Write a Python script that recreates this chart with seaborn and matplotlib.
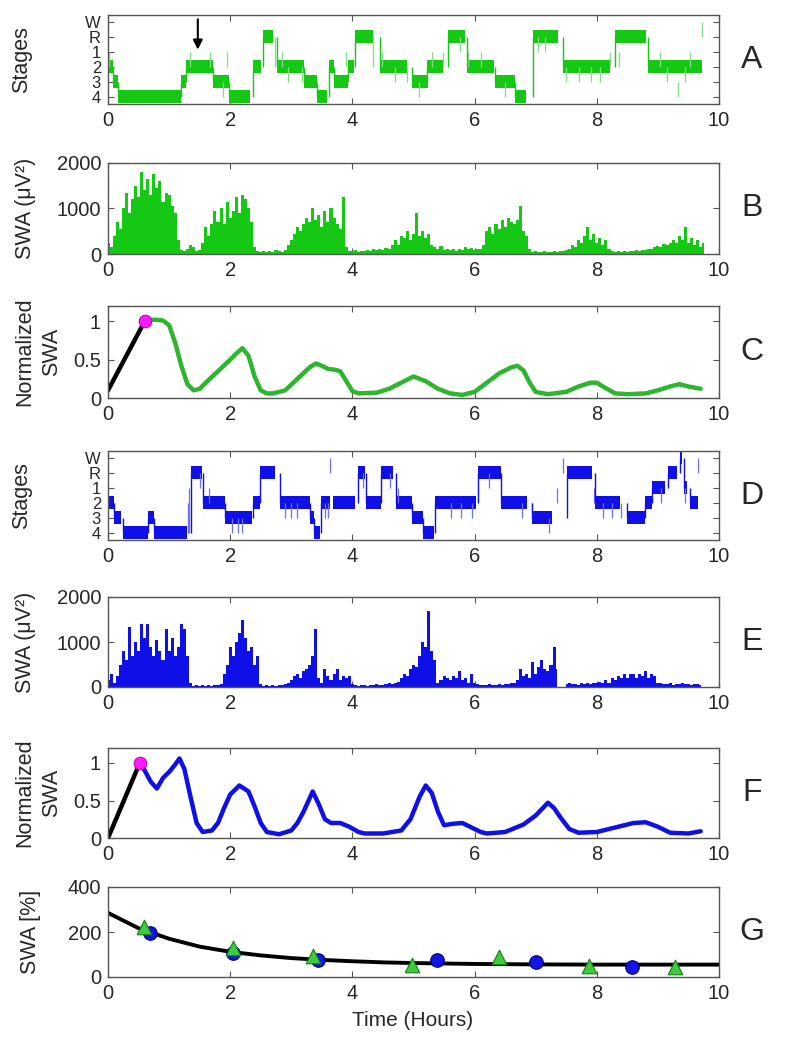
import matplotlib
matplotlib.use('Agg')
import matplotlib.pyplot as plt
import seaborn as sns
import numpy as np
import pandas as pd

# ---------------------------------------------------------------- data
STAGE_LEVEL = {'4': 0, '3': 1, '2': 2, '1': 3, 'R': 4, 'W': 5}
stage_labels = ['4', '3', '2', '1', 'R', 'W']

# hypnogram A (green): blocks of consolidated stage
hyp_a_start = [0.00, 0.09, 0.17, 1.19, 1.27, 1.72, 1.98, 2.37, 2.54, 2.76, 3.20, 3.42, 3.62, 3.70,
               3.92, 4.04, 4.45, 4.97, 5.22, 5.56, 5.87, 6.33, 6.66, 6.95, 7.44, 8.29, 8.84]
hyp_a_end = [0.09, 0.17, 1.19, 1.27, 1.72, 1.98, 2.33, 2.51, 2.70, 3.20, 3.42, 3.58, 3.70, 3.92,
             4.02, 4.34, 4.90, 5.24, 5.49, 5.84, 6.31, 6.66, 6.84, 7.36, 8.21, 8.81, 9.72]
hyp_a_stage = ['2', '3', '4', '3', '2', '3', '4', '2', 'R', '2', '3', '4', '2', '3',
               '2', 'R', '2', '3', '2', 'R', '2', '3', '4', 'R', '2', 'R', '2']
# brief transitions (thin lines)
hyp_a_spike_t = [0.02, 1.34, 1.67, 1.88, 1.94, 2.74, 2.84, 2.95, 3.17, 3.90, 4.34, 4.48, 4.69,
                 4.90, 5.09, 5.30, 5.49, 5.76, 5.90, 6.10, 6.50, 7.03, 7.16, 7.50, 7.71, 7.90,
                 8.05, 8.21, 8.37, 9.03, 9.15, 9.33, 9.45, 9.53, 9.72]
hyp_a_spike_from = ['2', '2', '2', '3', '2', 'R', '1', '2', '2', '1', 'R', '1', '2',
                    '2', '3', '1', '2', 'R', '1', '1', '3', 'R', 'R', '2', '2', '2',
                    '2', '2', '1', '1', '2', '3', '2', '1', 'R']
hyp_a_spike_to = ['1', '1', '1', '4', '1', '2', '2', '3', '3', '2', '2', '2', '3',
                  '3', '4', '2', '1', '1', '2', '2', '4', '1', '1', '3', '3', '3',
                  '3', '1', '2', '2', '3', '4', '3', '2', 'W']

# hypnogram D (blue)
hyp_d_start = [0.00, 0.10, 0.24, 0.66, 0.76, 1.36, 1.56, 1.91, 2.38, 2.49, 2.82, 3.31, 3.37, 3.49,
               3.68, 4.09, 4.22, 4.46, 4.71, 4.98, 5.16, 5.35, 6.05, 6.44, 6.94, 7.51, 7.97,
               8.50, 8.79, 8.91, 9.16, 9.36, 9.42, 9.53]
hyp_d_end = [0.10, 0.22, 0.66, 0.76, 1.29, 1.54, 1.91, 2.36, 2.49, 2.73, 3.31, 3.37, 3.47, 3.64,
             4.05, 4.20, 4.46, 4.67, 4.98, 5.16, 5.33, 6.03, 6.43, 6.85, 7.26, 7.92, 8.38,
             8.79, 8.91, 9.12, 9.32, 9.40, 9.48, 9.65]
hyp_d_stage = ['2', '3', '4', '3', '4', 'R', '2', '3', '2', 'R', '2', '3', '4', '2',
               '2', 'R', '2', 'R', '2', '3', '4', '2', 'R', '2', '3', 'R', '2',
               '3', '2', '1', 'R', 'W', '1', '2']
hyp_d_spike_t = [1.31, 1.33, 1.50, 1.66, 2.03, 2.12, 2.20, 2.90, 3.00, 3.10, 3.55, 3.60, 3.64,
                 4.18, 4.62, 4.75, 5.62, 5.78, 5.95, 6.24, 6.77, 6.94, 7.22, 7.35, 7.45, 7.95,
                 8.10, 8.25, 8.40, 9.05, 9.45, 9.65]
hyp_d_spike_from = ['4', '4', 'R', '2', '3', '3', '3', '2', '2', '2', '2', '2', 'R',
                    'R', 'R', '1', '2', '2', '2', 'R', '2', '2', '3', '2', 'R', '1',
                    '2', '2', '2', '1', '1', 'R']
hyp_d_spike_to = ['2', '1', '1', '1', '4', '4', '4', '3', '3', '3', '3', '3', 'W',
                  '1', '1', '2', '3', '3', '3', '1', '3', '3', '4', '1', 'W', '2',
                  '3', '3', '3', '2', '2', 'W']

# SWA per 0.05 h bin (uV^2)
EPOCH_H = 0.05
swa_b = [250, 150, 400, 700, 550, 1000, 1350, 900, 1200, 1500, 1250, 1800, 1400, 1650, 1300, 1750, 1450, 1600, 1150, 1350,
         1300, 1050, 900, 300, 80, 60, 120, 200, 150, 60, 80, 250, 600, 400, 650, 950, 700, 1000, 650, 1150,
         800, 950, 1250, 900, 1300, 1200, 1000, 700, 150, 60, 50, 70, 40, 60, 50, 80, 60, 50, 90, 200,
         300, 450, 600, 500, 650, 800, 700, 1000, 750, 850, 600, 950, 700, 1000, 800, 650, 550, 1250, 150, 70,
         60, 80, 50, 70, 60, 90, 70, 100, 80, 110, 90, 130, 100, 200, 300, 200, 400, 350, 500, 300,
         450, 900, 400, 500, 350, 450, 200, 150, 100, 180, 90, 120, 80, 100, 70, 110, 90, 150, 100, 140,
         90, 120, 100, 200, 500, 600, 450, 650, 550, 750, 600, 800, 700, 650, 750, 1050, 500, 400, 100, 50,
         60, 40, 50, 60, 40, 50, 60, 50, 70, 60, 90, 100, 200, 150, 300, 250, 400, 600, 300, 450,
         250, 350, 200, 300, 100, 60, 50, 70, 50, 60, 50, 70, 60, 80, 70, 90, 80, 110, 100, 150,
         180, 150, 220, 200, 250, 300, 250, 400, 300, 600, 250, 350, 200, 300, 150, 250]
swa_e = [150, 300, 100, 250, 500, 800, 600, 1330, 700, 1000, 800, 1400, 1100, 1400, 900, 700, 1050, 800, 600, 1300,
         800, 1100, 700, 900, 1400, 1300, 700, 100, 30, 40, 30, 50, 30, 40, 30, 50, 40, 60, 300, 500,
         900, 700, 1000, 1200, 1500, 1100, 800, 900, 500, 700, 60, 30, 40, 30, 40, 30, 50, 40, 60, 80,
         150, 250, 300, 200, 350, 400, 500, 700, 1300, 200, 100, 400, 250, 150, 300, 400, 150, 250, 200, 250,
         60, 40, 30, 50, 40, 30, 50, 40, 60, 50, 40, 60, 80, 70, 100, 120, 200, 300, 250, 400,
         500, 450, 700, 1000, 900, 1700, 800, 600, 100, 150, 250, 200, 150, 250, 200, 350, 150, 200, 100, 300,
         100, 60, 40, 50, 40, 60, 50, 40, 60, 50, 70, 60, 80, 100, 150, 400, 250, 300, 200, 550,
         300, 450, 600, 400, 350, 500, 900, 400, np.nan, np.nan, 60, 80, 60, 70, 50, 80, 60, 90, 70, 100,
         80, 110, 90, 150, 100, 200, 150, 250, 200, 300, 200, 280, 300, 200, 300, 250, 350, 200, 300, 250,
         100, 80, 70, 60, 80, 50, 70, 60, 80, 60, 70, 50, 60, 70, 50, np.nan]

# normalized SWA curves
c_ramp_t = [0.0, 0.60]
c_ramp_v = [0.10, 1.00]
c_time = [0.60, 0.70, 0.80, 0.90, 1.00, 1.10, 1.20, 1.30, 1.40, 1.50, 1.60, 1.80, 2.00, 2.10, 2.20,
          2.30, 2.40, 2.50, 2.60, 2.70, 2.90, 3.10, 3.30, 3.40, 3.50, 3.60, 3.70, 3.80, 3.90, 4.00,
          4.10, 4.40, 4.60, 4.80, 5.00, 5.20, 5.40, 5.60, 5.80, 6.00, 6.20, 6.40, 6.60, 6.70, 6.80,
          6.90, 7.00, 7.20, 7.50, 7.70, 7.90, 8.00, 8.10, 8.30, 8.50, 8.80, 9.00, 9.20, 9.35, 9.50, 9.70]
c_value = [1.00, 1.02, 1.02, 1.01, 0.95, 0.72, 0.42, 0.18, 0.10, 0.12, 0.20, 0.35, 0.50, 0.58, 0.65,
           0.55, 0.28, 0.10, 0.06, 0.06, 0.10, 0.25, 0.40, 0.45, 0.42, 0.38, 0.37, 0.35, 0.22, 0.09,
           0.06, 0.07, 0.12, 0.20, 0.28, 0.22, 0.12, 0.06, 0.04, 0.08, 0.20, 0.32, 0.40, 0.42, 0.36,
           0.20, 0.08, 0.05, 0.08, 0.15, 0.20, 0.20, 0.15, 0.06, 0.05, 0.06, 0.10, 0.15, 0.18, 0.15, 0.12]
f_ramp_t = [0.0, 0.52]
f_ramp_v = [0.0, 1.00]
f_time = [0.52, 0.60, 0.70, 0.80, 0.90, 1.00, 1.10, 1.17, 1.25, 1.35, 1.45, 1.55, 1.70, 1.80, 1.90,
          2.00, 2.15, 2.30, 2.40, 2.50, 2.60, 2.80, 3.00, 3.10, 3.20, 3.35, 3.45, 3.55, 3.65, 3.80,
          3.95, 4.10, 4.20, 4.50, 4.80, 4.95, 5.10, 5.20, 5.30, 5.40, 5.50, 5.65, 5.80, 5.95, 6.10,
          6.20, 6.50, 6.80, 7.00, 7.20, 7.30, 7.40, 7.55, 7.70, 8.00, 8.30, 8.60, 8.80, 9.00, 9.20,
          9.50, 9.70]
f_value = [1.00, 0.90, 0.75, 0.66, 0.80, 0.88, 0.98, 1.06, 0.92, 0.55, 0.20, 0.08, 0.10, 0.20, 0.40,
           0.58, 0.70, 0.62, 0.42, 0.20, 0.08, 0.05, 0.10, 0.20, 0.35, 0.62, 0.45, 0.25, 0.20, 0.20,
           0.15, 0.08, 0.06, 0.06, 0.10, 0.25, 0.55, 0.70, 0.60, 0.35, 0.17, 0.19, 0.20, 0.14, 0.08,
           0.06, 0.08, 0.18, 0.30, 0.47, 0.40, 0.28, 0.12, 0.07, 0.08, 0.14, 0.20, 0.21, 0.15, 0.07,
           0.06, 0.09]

# panel G: SWA per NREM episode (%) and fitted decay
g_tri_t = [0.59, 2.05, 3.35, 4.98, 6.40, 7.88, 9.28]
g_tri_v = [224, 127, 93, 52, 90, 51, 45]
g_circ_t = [0.68, 2.05, 3.43, 5.39, 7.00, 8.57]
g_circ_v = [197, 107, 75, 75, 68, 45]
g_fit_t = [0, 0.5, 1, 1.5, 2, 2.5, 3, 3.5, 4, 4.5, 5, 6, 7, 8, 9, 10]
g_fit_v = [285, 217, 170, 135, 112, 96, 84, 76, 70, 65, 62, 58, 56, 55, 55, 55]

# ---------------------------------------------------------------- style
sns.set_style('ticks')
plt.rcParams['font.family'] = ['Liberation Sans Narrow', 'Liberation Sans', 'DejaVu Sans']
plt.rcParams['axes.unicode_minus'] = False

GREEN = '#14c814'
GREEN_LIGHT = '#86dc86'
GREEN_LINE = '#2db52d'
BLUE = '#0f0fe8'
BLUE_LIGHT = '#6f6ff2'
MAGENTA = '#ff1aff'
EDGE = '#555555'
FS = 14.5

W, H = 787, 1048
fig = plt.figure(figsize=(W / 100, H / 100), dpi=100)


def px_axes(top, bottom, left=108, right=719):
    return fig.add_axes([left / W, 1 - bottom / H, (right - left) / W, (bottom - top) / H])


def style(ax, label, label_x, letter):
    ax.set_xlim(0, 10)
    ax.set_xticks(range(0, 11, 2))
    ax.tick_params(direction='in', top=True, right=True, length=4, width=0.8,
                   color=EDGE, labelsize=FS, pad=5)
    for s in ax.spines.values():
        s.set_color(EDGE)
        s.set_linewidth(1)
    ax.set_xlabel('')
    ax.set_ylabel(label, fontsize=15.5, va='center', linespacing=1.4)
    ax.yaxis.set_label_coords((label_x - 108) / 611, 0.5)
    pos = ax.get_position()
    fig.text(752 / W, pos.y0 + pos.height / 2, letter, fontsize=23,
             ha='center', va='center', family=['Liberation Sans', 'DejaVu Sans'])


def draw_hypnogram(ax, start, end, stage, sp_t, sp_from, sp_to, color, light):
    for t, a, b in zip(sp_t, sp_from, sp_to):
        ya, yb = STAGE_LEVEL[a], STAGE_LEVEL[b]
        ax.vlines(t, min(ya, yb), max(ya, yb), color=light, lw=0.9)
    prev = None
    for a, b, s in zip(start, end, stage):
        y = STAGE_LEVEL[s]
        ax.fill_between([a, b], y - 0.45, y + 0.45, color=color, lw=0)
        if prev is not None:
            ax.vlines(a, min(prev, y), max(prev, y), color=color, lw=1.0)
        prev = y
    ax.set_ylim(-0.5, 5.45)
    ax.set_yticks(range(6))
    ax.set_yticklabels(stage_labels)


def draw_swa(ax, values, color):
    t = np.arange(len(values)) * EPOCH_H
    v = np.array(values, dtype=float)
    ax.fill_between(t, 0, v, step='mid', color=color, lw=0)
    ax.set_ylim(0, 2000)
    ax.set_yticks([0, 1000, 2000])


def draw_norm(ax, ramp_t, ramp_v, time, value, color):
    df = pd.DataFrame({'t': time, 'v': value})
    sns.lineplot(data=df, x='t', y='v', ax=ax, color=color, lw=3.2)
    sns.lineplot(x=ramp_t, y=ramp_v, ax=ax, color='black', lw=3.2)
    ax.plot([ramp_t[-1]], [ramp_v[-1]], 'o', ms=9, color=MAGENTA, mec='#c000c0', mew=0.8)
    ax.set_ylim(0, 1.2)
    ax.set_yticks([0, 0.5, 1])
    ax.set_yticklabels(['0', '0.5', '1'])


# A
ax = px_axes(15, 104)
draw_hypnogram(ax, hyp_a_start, hyp_a_end, hyp_a_stage,
               hyp_a_spike_t, hyp_a_spike_from, hyp_a_spike_to, GREEN, GREEN_LIGHT)
ax.annotate('', xy=(1.47, 2.95), xytext=(1.47, 5.35),
            arrowprops=dict(arrowstyle='-|>', color='black', lw=1.5, mutation_scale=14))
style(ax, 'Stages', 22, 'A')
ax.tick_params(axis='y', labelsize=12)

# B
ax = px_axes(163, 254)
draw_swa(ax, swa_b, GREEN)
style(ax, 'SWA (\u03bcV\u00b2)', 25, 'B')

# C
ax = px_axes(306, 398)
draw_norm(ax, c_ramp_t, c_ramp_v, c_time, c_value, GREEN_LINE)
style(ax, 'Normalized\nSWA', 38, 'C')

# D
ax = px_axes(451, 540)
draw_hypnogram(ax, hyp_d_start, hyp_d_end, hyp_d_stage,
               hyp_d_spike_t, hyp_d_spike_from, hyp_d_spike_to, BLUE, BLUE_LIGHT)
style(ax, 'Stages', 22, 'D')
ax.tick_params(axis='y', labelsize=12)

# E
ax = px_axes(597, 687)
draw_swa(ax, swa_e, BLUE)
style(ax, 'SWA (\u03bcV\u00b2)', 25, 'E')

# F
ax = px_axes(748, 838)
draw_norm(ax, f_ramp_t, f_ramp_v, f_time, f_value, BLUE)
style(ax, 'Normalized\nSWA', 38, 'F')

# G
ax = px_axes(887, 977)
sns.lineplot(x=g_fit_t, y=g_fit_v, ax=ax, color='black', lw=2.8)
sns.scatterplot(x=g_circ_t, y=g_circ_v, ax=ax, marker='o', s=95, color='#1414e6',
                edgecolor='#000080', linewidth=0.8, zorder=3)
sns.scatterplot(x=g_tri_t, y=g_tri_v, ax=ax, marker='^', s=110, color='#3ccc3c',
                edgecolor='#1a7a1a', linewidth=0.8, zorder=4)
ax.set_ylim(0, 400)
ax.set_yticks([0, 200, 400])
style(ax, 'SWA [%]', 30, 'G')

fig.text(413 / W, 1 - 1020 / H, 'Time (Hours)', fontsize=15, ha='center', va='center')

fig.savefig('out.png', dpi=100)
